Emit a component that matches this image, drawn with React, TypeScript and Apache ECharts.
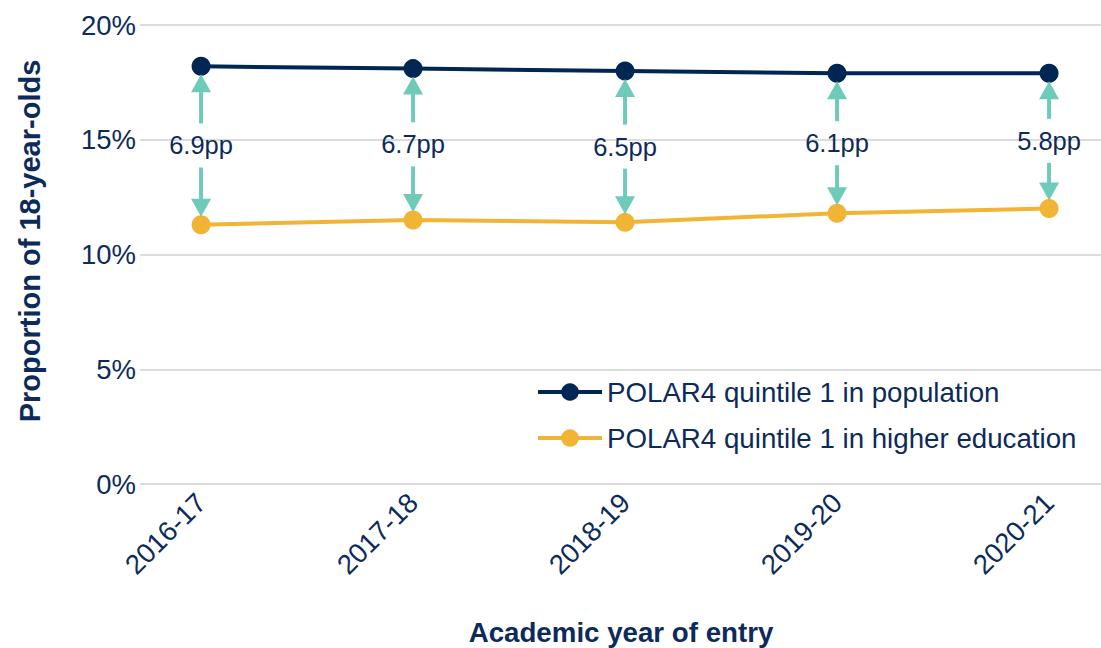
import React, { useEffect, useRef } from "react";
import * as echarts from "echarts";

const categories = ["2016-17", "2017-18", "2018-19", "2019-20", "2020-21"];
const populationShare = [18.2, 18.1, 18.0, 17.9, 17.9];
const heShare = [11.3, 11.5, 11.4, 11.8, 12.0];
const gapLabels = [6.9, 6.7, 6.5, 6.1, 5.8];

const NAVY = "#002654";
const TEXT = "#0c2b5b";
const YELLOW = "#f1b434";
const TEAL = "#6fcbb9";
const GRID = "#dcdcdc";
const FONT = "'Liberation Sans', Arial, sans-serif";

export default function App() {
  const ref = useRef<HTMLDivElement>(null);
  useEffect(() => {
    document.body.style.margin = "0";
    if (!ref.current) return;
    const chart = echarts.init(ref.current, undefined, { renderer: "svg" });
    const option: any = {
      animation: false,
      backgroundColor: "#ffffff",
      textStyle: { fontFamily: FONT, color: TEXT },
      grid: { left: 140, right: 0, top: 25, bottom: 164, containLabel: false },
      legend: {
        orient: "vertical",
        left: 531,
        top: 373,
        itemWidth: 64,
        itemHeight: 22,
        itemGap: 18,
        lineStyle: { width: 4 },
        data: ["POLAR4 quintile 1 in population", "POLAR4 quintile 1 in higher education"],
        textStyle: { fontSize: 27.7, color: TEXT, fontFamily: FONT },
      },
      xAxis: {
        type: "value",
        min: -0.288,
        max: 4.245,
        axisLine: { show: false },
        axisTick: { show: false },
        splitLine: { show: false },
        axisLabel: {
          customValues: categories.map((_, i) => i),
          formatter: (v: number) => categories[Math.round(v)] ?? "",
          rotate: 45,
          margin: 14,
          fontSize: 27.5,
          color: TEXT,
          fontFamily: FONT,
        },
      },
      yAxis: {
        type: "value",
        min: 0,
        max: 20,
        interval: 5,
        axisLine: { show: false },
        axisTick: { show: false },
        splitLine: { show: true, lineStyle: { color: GRID, width: 2 } },
        axisLabel: {
          formatter: "{value}%",
          fontSize: 27.5,
          color: TEXT,
          margin: 4,
          fontFamily: FONT,
        },
      },
      graphic: [
        {
          type: "text",
          x: 30,
          y: 241,
          rotation: Math.PI / 2,
          style: {
            text: "Proportion of 18-year-olds",
            fontSize: 29,
            fontWeight: "bold",
            fill: TEXT,
            fontFamily: FONT,
            align: "center",
            verticalAlign: "middle",
          },
        },
        {
          type: "text",
          x: 621,
          y: 632,
          style: {
            text: "Academic year of entry",
            fontSize: 27.7,
            fontWeight: "bold",
            fill: TEXT,
            fontFamily: FONT,
            align: "center",
            verticalAlign: "middle",
          },
        },
      ],
      series: [
        {
          name: "POLAR4 quintile 1 in population",
          type: "line",
          data: populationShare.map((v, i) => [i, v]),
          symbol: "circle",
          symbolSize: 19,
          lineStyle: { color: NAVY, width: 4 },
          itemStyle: { color: NAVY },
          z: 3,
        },
        {
          name: "POLAR4 quintile 1 in higher education",
          type: "line",
          data: heShare.map((v, i) => [i, v]),
          symbol: "circle",
          symbolSize: 19,
          lineStyle: { color: YELLOW, width: 4 },
          itemStyle: { color: YELLOW },
          z: 3,
        },
        {
          name: "gaps",
          type: "custom",
          z: 4,
          encode: { x: 0, y: [1, 2] },
          data: categories.map((_, i) => [i, populationShare[i], heShare[i], gapLabels[i]]),
          renderItem: (params: any, api: any) => {
            const idx = api.value(0);
            const top = api.coord([idx, api.value(1)]);
            const bot = api.coord([idx, api.value(2)]);
            const x = top[0];
            const mid = (top[1] + bot[1]) / 2;
            const tipOff = 8;
            const headLen = 18;
            const headHalf = 10;
            const gap = 22;
            return {
              type: "group",
              children: [
                {
                  type: "line",
                  shape: { x1: x, y1: mid - gap, x2: x, y2: top[1] + tipOff + headLen - 1 },
                  style: { stroke: TEAL, lineWidth: 4 },
                },
                {
                  type: "polygon",
                  shape: {
                    points: [
                      [x, top[1] + tipOff],
                      [x - headHalf, top[1] + tipOff + headLen],
                      [x + headHalf, top[1] + tipOff + headLen],
                    ],
                  },
                  style: { fill: TEAL },
                },
                {
                  type: "line",
                  shape: { x1: x, y1: mid + gap, x2: x, y2: bot[1] - tipOff - headLen + 1 },
                  style: { stroke: TEAL, lineWidth: 4 },
                },
                {
                  type: "polygon",
                  shape: {
                    points: [
                      [x, bot[1] - tipOff],
                      [x - headHalf, bot[1] - tipOff - headLen],
                      [x + headHalf, bot[1] - tipOff - headLen],
                    ],
                  },
                  style: { fill: TEAL },
                },
                {
                  type: "text",
                  x: x,
                  y: mid,
                  style: {
                    text: api.value(3).toFixed(1) + "pp",
                    fontSize: 25.5,
                    fill: TEXT,
                    fontFamily: FONT,
                    align: "center",
                    verticalAlign: "middle",
                  },
                },
              ],
            };
          },
        },
      ],
    };
    chart.setOption(option);
    return () => chart.dispose();
  }, []);
  return <div ref={ref} style={{ width: 1101, height: 648 }} />;
}
